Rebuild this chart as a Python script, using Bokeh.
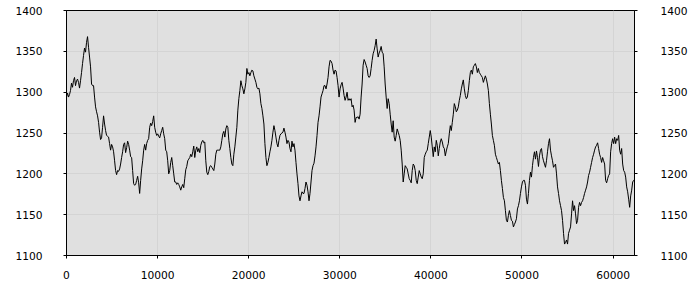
from bokeh.plotting import figure
from bokeh.models import Range1d, LinearAxis, FixedTicker
from bokeh.embed import file_html
from bokeh.resources import INLINE

# sample interval along x (data units)
x_step = 110

values_a = [1294,1299,1294,1297,1302,1311,1306,1314,1318,1308,1314,1316,1312,1305,1314,1324,1335,1345,1354,1349,1361,1368,1355,1343,1331,1310,1308,1308,1294,1282,1276,1271,1263,1251,1242,1244,1257,1271,1261,1253,1247,1246,1245,1237,1229,1236,1233,1227,1216,1204,1199,1204,1203,1206,1212,1220,1227,1236,1238,1226,1232,1240,1236,1229,1221,1220,1204,1188,1186,1187,1192,1197,1189,1176,1192,1206,1216,1229,1236,1229,1237,1241,1243,1257,1262,1259,1264,1271,1257,1251,1247,1249,1246,1244,1249,1253,1257,1249,1243,1229,1227,1216,1200,1204,1214,1220,1210,1200,1190,1190,1187,1189,1187,1184,1180,1184,1187,1183,1194,1205,1209,1216,1218,1220,1224,1221,1227,1234,1220,1229,1233,1227,1231,1226,1235,1239,1241,1238,1239,1216,1202,1199,1203,1209,1210,1208,1206,1204,1212,1224,1229,1229,1229,1229,1233,1241,1249,1252,1245,1255,1259,1257,1241,1231,1220,1212,1210,1224,1233,1245,1257,1278,1292,1302,1314,1308,1304,1298,1304,1312,1329,1322,1324,1320,1324,1327,1326,1320,1316,1312,1306,1304,1305,1298,1286,1280,1271,1261,1237,1220,1210,1214,1220,1227,1233,1241,1251,1259,1253,1245,1237,1233,1241,1247,1249,1250,1251,1256,1251,1245,1237,1241,1239,1231,1227,1240,1233,1237,1229,1214,1200,1188,1173,1167,1173,1178,1176,1176,1182,1190,1186,1178,1167,1176,1190,1204,1210,1213,1222,1233,1247,1263,1271,1282,1294,1298,1302,1308,1308,1304,1310,1318,1331,1339,1338,1335,1327,1322,1327,1326,1318,1308,1294,1304,1309,1312,1305,1296,1290,1294,1300,1290,1292,1290]

values_b = [1292,1282,1284,1278,1263,1269,1269,1270,1267,1273,1294,1310,1333,1340,1337,1333,1329,1320,1318,1320,1329,1339,1347,1351,1357,1365,1353,1343,1348,1351,1356,1349,1347,1331,1310,1294,1280,1292,1286,1273,1261,1251,1265,1245,1240,1247,1255,1251,1247,1241,1229,1212,1190,1200,1210,1208,1206,1200,1194,1192,1189,1204,1212,1210,1204,1192,1188,1196,1204,1200,1196,1194,1200,1220,1224,1227,1229,1237,1245,1253,1245,1233,1221,1233,1227,1241,1235,1222,1231,1239,1243,1239,1233,1231,1222,1228,1233,1237,1249,1259,1253,1263,1273,1286,1282,1276,1278,1282,1290,1296,1304,1310,1315,1304,1296,1292,1294,1302,1314,1324,1327,1322,1331,1333,1335,1331,1324,1329,1324,1322,1320,1318,1312,1316,1320,1316,1310,1302,1286,1273,1261,1247,1241,1235,1224,1220,1216,1212,1214,1204,1192,1182,1171,1167,1155,1143,1141,1149,1155,1149,1143,1142,1135,1138,1141,1145,1157,1161,1167,1176,1184,1190,1192,1192,1186,1169,1163,1176,1192,1202,1196,1210,1220,1227,1218,1228,1220,1209,1222,1229,1231,1221,1216,1212,1208,1216,1227,1237,1243,1229,1222,1216,1208,1210,1212,1200,1184,1176,1167,1161,1155,1143,1127,1114,1116,1119,1114,1127,1131,1135,1151,1167,1155,1161,1151,1139,1143,1159,1165,1161,1165,1167,1171,1176,1180,1184,1190,1198,1202,1208,1214,1220,1224,1229,1233,1235,1238,1231,1224,1220,1214,1220,1216,1212,1192,1189,1194,1198,1200,1227,1237,1243,1237,1245,1237,1243,1241,1247,1229,1224,1231,1212,1204,1202,1196,1184,1178,1169,1159,1173,1180,1190,1192,1192]

y_ticks = [1100, 1150, 1200, 1250, 1300, 1350, 1400]
x_ticks = [0, 10000, 20000, 30000, 40000, 50000, 60000]

ys = values_a + values_b
xs = [i * x_step for i in range(len(ys))]

p = figure(width=700, height=300, output_backend="svg", toolbar_location=None,
           x_range=Range1d(0, 62350), y_range=Range1d(1100, 1400),
           y_axis_location=None, x_axis_location=None)
p.min_border_left = 66
p.min_border_right = 66
p.min_border_top = 10
p.min_border_bottom = 45
p.background_fill_color = "#e0e0e0"
p.border_fill_color = "white"
p.outline_line_color = "black"
p.outline_line_width = 1

font = "DejaVu Sans"

def style(ax):
    ax.axis_line_color = "black"
    ax.major_tick_line_color = "black"
    ax.major_tick_out = 3
    ax.major_tick_in = 0
    ax.minor_tick_line_color = None
    ax.major_label_text_font = font
    ax.major_label_text_font_size = "8pt"
    ax.major_label_text_color = "black"

xa = LinearAxis(ticker=FixedTicker(ticks=x_ticks))
style(xa)
xa.major_label_standoff = 12
p.add_layout(xa, "below")

yl = LinearAxis(ticker=FixedTicker(ticks=y_ticks))
style(yl)
yl.major_label_standoff = 21
p.add_layout(yl, "left")

yr = LinearAxis(ticker=FixedTicker(ticks=y_ticks))
style(yr)
yr.major_label_standoff = 23
p.add_layout(yr, "right")

p.xgrid.ticker = FixedTicker(ticks=x_ticks)
p.ygrid.ticker = FixedTicker(ticks=y_ticks)
for g in (p.xgrid, p.ygrid):
    g.grid_line_color = "#d4d4d4"
    g.grid_line_width = 1

p.line(xs, ys, line_color="black", line_width=1)

open("out.html", "w").write(file_html(p, INLINE))
